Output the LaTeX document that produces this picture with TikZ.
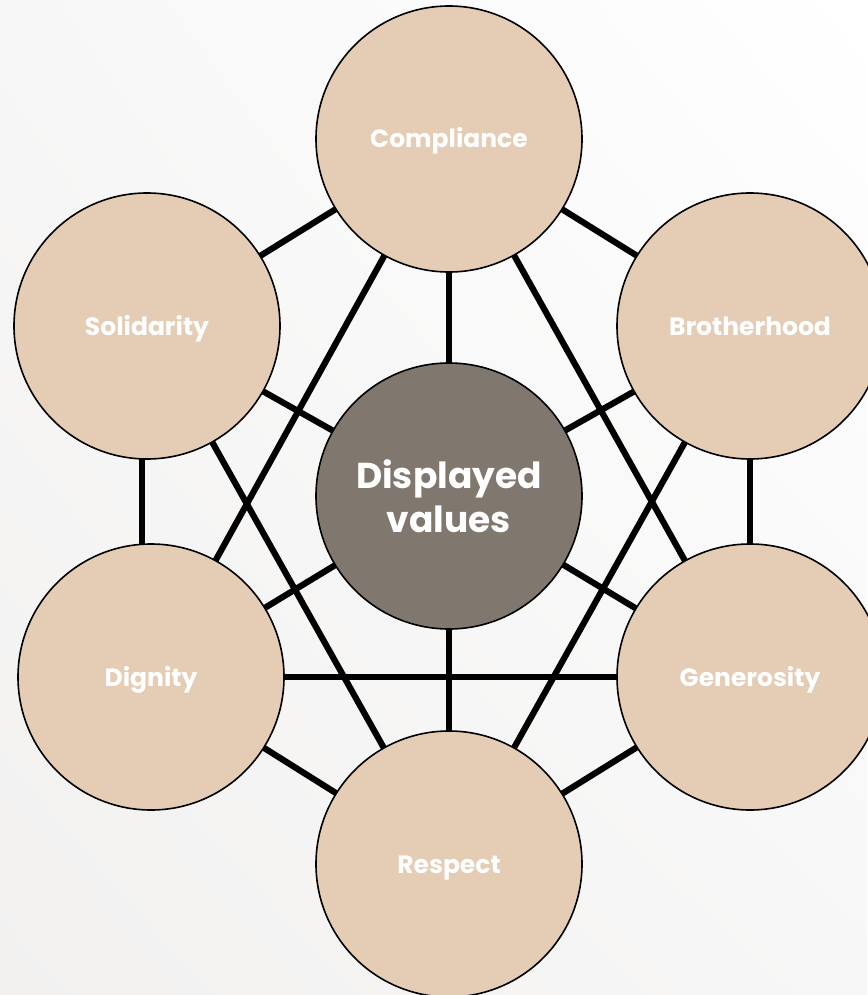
\documentclass[tikz,border=0pt]{standalone}
\usepackage{fontspec}
\setmainfont{Poppins}
\usetikzlibrary{shadings}
\pgfdeclarelayer{bg}
\pgfdeclarelayer{edges}
\pgfsetlayers{bg,edges,main}
\definecolor{petal}{HTML}{E5CCB5}
\definecolor{hub}{HTML}{80786E}
\definecolor{bgA}{HTML}{F2F1F0}
\definecolor{bgB}{HTML}{FFFFFF}
\definecolor{bgC}{HTML}{F8F7F7}
\begin{document}
\begin{tikzpicture}[x=1pt,y=-1pt,
  value/.style={circle,draw=black,line width=1.6pt,fill=petal,minimum size=266pt,inner sep=0pt,text=white,font=\fontsize{25}{29}\selectfont\bfseries,text depth=0pt,text height=18pt},
  hubnode/.style={circle,draw=black,line width=1.6pt,fill=hub,minimum size=266pt,inner sep=0pt,text=white,font=\fontsize{36}{44}\selectfont\bfseries,align=center},
  link/.style={line width=6.2pt,black}]
\useasboundingbox (0,0) rectangle (867,995);
\begin{pgfonlayer}{bg}
\shade[upper left=bgC,upper right=bgB,lower left=bgA,lower right=bgC] (0,0) rectangle (867,995);
\end{pgfonlayer}
\node[hubnode] (dv) at (449,496) {Displayed\\values};
\node[value] (com) at (449,139) {Compliance};
\node[value] (sol) at (147,326) {Solidarity};
\node[value] (bro) at (750,326) {Brotherhood};
\node[value] (dig) at (151,677) {Dignity};
\node[value] (gen) at (750,677) {Generosity};
\node[value] (res) at (449,864) {Respect};
\begin{pgfonlayer}{edges}
\draw[link] (com.center) -- (sol.center);
\draw[link] (com.center) -- (bro.center);
\draw[link] (com.center) -- (dv.center);
\draw[link] (com.center) -- (dig.center);
\draw[link] (com.center) -- (gen.center);
\draw[link] (sol.center) -- (dv.center);
\draw[link] ([xshift=-5pt]sol.center) -- ([xshift=-9pt]dig.center);
\draw[link] (sol.center) -- (res.center);
\draw[link] (bro.center) -- (dv.center);
\draw[link] (bro.center) -- (gen.center);
\draw[link] (bro.center) -- (res.center);
\draw[link] (dig.center) -- (dv.center);
\draw[link] (dig.center) -- (gen.center);
\draw[link] (dig.center) -- (res.center);
\draw[link] (gen.center) -- (dv.center);
\draw[link] (gen.center) -- (res.center);
\draw[link] (dv.center) -- (res.center);
\end{pgfonlayer}
\end{tikzpicture}
\end{document}
